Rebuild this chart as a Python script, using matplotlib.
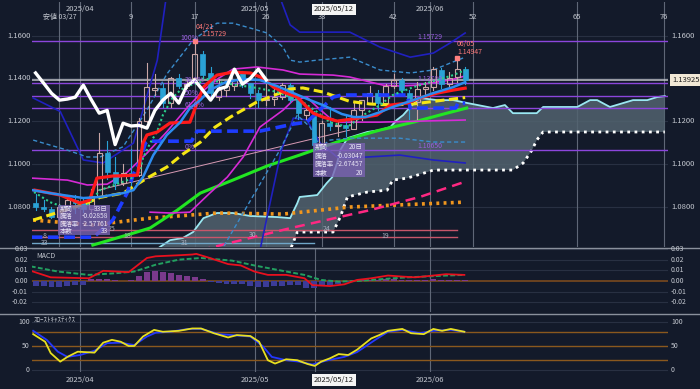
import matplotlib
matplotlib.use('Agg')
import matplotlib.pyplot as plt
from matplotlib.patches import Rectangle, Polygon
from matplotlib.lines import Line2D
import numpy as np

plt.rcParams['font.family'] = ['Liberation Sans Narrow', 'Noto Sans CJK JP', 'DejaVu Sans']

# ---------------- data ----------------
bar_idx = np.arange(-3, 52)          # 0 = 03/27
opens = [1.0818, 1.0800, 1.0790, 1.0752, 1.0800, 1.0830, 1.0815, 1.0790, 1.0850, 1.1050,
         1.0960, 1.0910, 1.0957, 1.0950, 1.1200, 1.1345, 1.1355, 1.1285, 1.1400, 1.1365,
         1.1400, 1.1515, 1.1425, 1.1312, 1.1345, 1.1365, 1.1425, 1.1378, 1.1330, 1.1298,
         1.1303, 1.1312, 1.1368, 1.1300, 1.1230, 1.1225, 1.1090, 1.1190, 1.1177, 1.1180,
         1.1165, 1.1250, 1.1285, 1.1330, 1.1284, 1.1364, 1.1390, 1.1330, 1.1290, 1.1350,
         1.1360, 1.1440, 1.1375, 1.1405, 1.1445]
highs = [1.0858, 1.0830, 1.0800, 1.0812, 1.0856, 1.0855, 1.0835, 1.0880, 1.1145, 1.1108,
         1.1030, 1.1000, 1.1070, 1.1215, 1.1473, 1.1420, 1.1380, 1.1405, 1.1420, 1.1390,
         1.15729, 1.1530, 1.1455, 1.1395, 1.1390, 1.1430, 1.1435, 1.1380, 1.1345, 1.1380,
         1.1350, 1.1380, 1.1380, 1.1310, 1.1265, 1.1245, 1.1200, 1.1265, 1.1205, 1.1230,
         1.1285, 1.1300, 1.1365, 1.1345, 1.1375, 1.1420, 1.1400, 1.1345, 1.1385, 1.1385,
         1.1455, 1.1450, 1.1430, 1.14947, 1.1455]
lows = [1.0785, 1.0778, 1.0745, 1.0735, 1.0790, 1.0768, 1.0775, 1.0776, 1.0840, 1.0930,
        1.0880, 1.0900, 1.0880, 1.0945, 1.1195, 1.1320, 1.1265, 1.1265, 1.1355, 1.1355,
        1.1390, 1.1400, 1.1300, 1.1300, 1.1315, 1.1345, 1.1360, 1.1310, 1.1265, 1.1275,
        1.1275, 1.1305, 1.1290, 1.1210, 1.1210, 1.1065, 1.1085, 1.1160, 1.1130, 1.1130,
        1.1165, 1.1205, 1.1280, 1.1250, 1.1275, 1.1355, 1.1320, 1.1210, 1.1210, 1.1315,
        1.1345, 1.1355, 1.1365, 1.1385, 1.1375]
closes = [1.0800, 1.0790, 1.0752, 1.0800, 1.0830, 1.0815, 1.0790, 1.0850, 1.1050, 1.0960,
          1.0910, 1.0957, 1.0950, 1.1200, 1.1360, 1.1355, 1.1285, 1.1400, 1.1365, 1.1372,
          1.1515, 1.1415, 1.1330, 1.1345, 1.1365, 1.1425, 1.1378, 1.1330, 1.1298, 1.1303,
          1.1312, 1.1368, 1.1300, 1.1237, 1.1250, 1.1090, 1.1190, 1.1177, 1.1180, 1.1167,
          1.1250, 1.1298, 1.1330, 1.1284, 1.1364, 1.1392, 1.1345, 1.1298, 1.1350, 1.1360,
          1.1443, 1.1373, 1.1400, 1.1443, 1.13925]
chikou_shift = 25

# indicator lines (bar index, price)
tenkan_x = [-3.1, 0.1, 2.6, 3.8, 4.7, 6.7, 9.8, 10.1, 10.5, 11.0, 12.3, 13.9, 16.4, 17.3, 18.1,
            19.8, 21.8, 24.0, 25.6, 26.9, 28.1, 29.9, 31.1, 31.9, 33.1, 34.9, 36.9, 39.9, 41.6,
            43.7, 45.3, 47.5, 49.5, 51.0]
tenkan_y = [1.0877, 1.0854, 1.0816, 1.0830, 1.0933, 1.0943, 1.0947, 1.1008, 1.1097, 1.1135,
            1.1149, 1.1191, 1.1195, 1.1284, 1.1359, 1.1415, 1.1429, 1.1425, 1.1401, 1.1359,
            1.1336, 1.1312, 1.1266, 1.1237, 1.1219, 1.1200, 1.1210, 1.1228, 1.1275, 1.1284,
            1.1308, 1.1331, 1.1345, 1.1354]
kijun_x = [-3.5, 4.3, 6.7, 8.5, 9.3, 10.1, 10.8, 11.1, 16.6, 17.3, 25.2, 29.4, 31.1, 34.4, 35.5,
           43.7, 44.1, 49.8, 50.1, 51.0]
kijun_y = [1.0657, 1.0657, 1.0737, 1.0863, 1.0952, 1.1008, 1.1097, 1.1106, 1.1106, 1.1153,
           1.1153, 1.1186, 1.1195, 1.1312, 1.1322, 1.1322, 1.1261, 1.1261, 1.1284, 1.1284]
ma_blue_x = [-3.4, -1.2, 3.0, 5.1, 8.0, 9.3, 10.5, 11.8, 13.5, 15.2, 16.4, 17.7, 18.9, 20.9, 23.1,
             25.2, 27.4, 29.4, 31.5, 33.1, 35.5, 37.0, 38.5, 40.3, 41.9, 44.5, 47.0, 49.5, 51.0]
ma_blue_y = [1.0877, 1.0863, 1.0840, 1.0845, 1.0863, 1.0877, 1.0938, 1.1041, 1.1135, 1.1195,
             1.1261, 1.1298, 1.1345, 1.1382, 1.1397, 1.1392, 1.1363, 1.1331, 1.1298, 1.1275,
             1.1233, 1.1219, 1.1219, 1.1242, 1.1266, 1.1298, 1.1331, 1.1359, 1.1382]
ma_dot_x = [-3.2, -1.2, 0.5, 2.0, 3.5, 5.1, 7.2, 8.9, 10.1, 10.5, 11.4, 12.3, 13.0, 14.2, 15.2,
            16.4, 17.6, 18.1, 20.6, 24.8, 27.4, 29.0, 30.6, 32.4, 34.0, 36.2, 38.2, 40.3, 41.9,
            44.5, 46.6, 49.5, 51.0]
ma_dot_y = [1.0868, 1.0821, 1.0798, 1.0790, 1.0805, 1.0877, 1.0905, 1.0929, 1.0962, 1.1027,
            1.1097, 1.1153, 1.1228, 1.1308, 1.1345, 1.1368, 1.1378, 1.1401, 1.1378, 1.1355,
            1.1336, 1.1312, 1.1289, 1.1242, 1.1195, 1.1172, 1.1228, 1.1275, 1.1322, 1.1359,
            1.1382, 1.1415, 1.1439]
bb_mid_x = [-3.3, 0.0, 3.0, 5.1, 8.0, 11.0, 13.5, 15.5, 17.7, 19.5, 21.5, 24.8, 27.7, 29.0,
            30.6, 33.1, 36.5, 39.0, 41.6, 44.5, 48.7, 51.0]
bb_mid_y = [1.0737, 1.0775, 1.0810, 1.0843, 1.0863, 1.0933, 1.0985, 1.1045, 1.1101, 1.1170,
            1.1219, 1.1289, 1.1331, 1.1350, 1.1355, 1.1336, 1.1292, 1.1280, 1.1275, 1.1280,
            1.1300, 1.1310]
bb_up1_x = [-3.4, 1.0, 3.5, 6.0, 8.5, 11.0, 13.5, 16.0, 18.0, 20.0, 21.8, 24.8, 28.1, 30.2,
            34.4, 36.5, 40.7, 42.8, 44.9, 49.1, 51.0]
bb_up1_y = [1.0933, 1.0924, 1.0901, 1.0905, 1.0960, 1.1050, 1.1150, 1.1260, 1.1340, 1.1400,
            1.1443, 1.1453, 1.1439, 1.1420, 1.1415, 1.1406, 1.1368, 1.1364, 1.1368, 1.1392,
            1.1411]
bb_dn1_x = [11.4, 13.9, 16.4, 18.9, 21.1, 23.1, 25.2, 28.1, 29.4, 31.1, 32.4, 34.0, 35.3, 40.3, 51.0]
bb_dn1_y = [1.0774, 1.0770, 1.0774, 1.0863, 1.0938, 1.1032, 1.1172, 1.1251, 1.1298, 1.1312,
            1.1266, 1.1214, 1.1195, 1.1195, 1.1205]
bb_up2_x = [-3.3, 1.0, 3.5, 5.1, 8.0, 11.0, 13.5, 16.8, 19.8, 21.8, 24.0, 26.1, 28.1, 29.0, 30.2,
            32.4, 36.5, 40.3, 44.1, 47.0, 49.1, 51.0]
bb_up2_y = [1.1111, 1.1064, 1.1032, 1.1032, 1.1080, 1.1251, 1.1420, 1.1579, 1.1658, 1.1658,
            1.1635, 1.1612, 1.1546, 1.1485, 1.1476, 1.1485, 1.1499, 1.1439, 1.1425, 1.1439,
            1.1471, 1.1499]
bb_dn2_x = [19.8, 27.7, 29.9, 31.5, 32.8, 34.0, 36.5, 42.8, 47.0, 51.0]
bb_dn2_y = [1.0560, 1.1064, 1.1228, 1.1172, 1.1078, 1.1111, 1.1120, 1.1120, 1.1102, 1.1102]
bb_up3_x = [-3.3, 0.1, 3.0, 5.5, 9.3, 12.3, 13.5, 20.0, 27.5, 29.0, 30.2, 36.5, 40.3, 44.1,
            47.0, 49.1, 51.0]
bb_up3_y = [1.1308, 1.1245, 1.1018, 1.1004, 1.1097, 1.1485, 1.1800, 1.2000, 1.1800, 1.1650,
            1.1616, 1.1616, 1.1546, 1.1499, 1.1518, 1.1565, 1.1612]
bb_dn3_x = [25.0, 27.9, 29.4, 31.1, 32.8, 34.9, 36.5, 42.8, 47.0, 51.0]
bb_dn3_y = [1.0560, 1.1064, 1.1214, 1.1205, 1.1097, 1.1032, 1.1027, 1.1041, 1.1018, 1.1004]
ma75_x = [4.2, 9.3, 11.4, 14.8, 17.7, 21.8, 26.1, 30.2, 34.9, 40.3, 44.5, 48.7, 51.2]
ma75_y = [1.0620, 1.0676, 1.0700, 1.0783, 1.0863, 1.0924, 1.0990, 1.1041, 1.1102, 1.1158,
          1.1195, 1.1237, 1.1261]
ma_pink_x = [17.7, 29.0, 39.0, 45.3, 51.2]
ma_pink_y = [1.0596, 1.0699, 1.0783, 1.0845, 1.0919]
ma200_x = [-3.3, 4.2, 11.4, 19.8, 28.1, 36.5, 51.0]
ma200_y = [1.0737, 1.0714, 1.0746, 1.0770, 1.0765, 1.0798, 1.0821]
senkou_a_x = [12.0, 13.9, 15.5, 16.8, 18.1, 19.8, 21.8, 24.0, 27.4, 29.0, 29.9, 30.2, 32.4, 33.6,
              34.3, 34.9, 35.3, 36.2, 38.7, 40.3, 41.6, 42.4, 43.2, 44.1, 45.3, 47.5, 49.5, 51.2,
              54.5, 56.0, 57.0, 60.0, 60.8, 65.1, 66.7, 67.6, 69.2, 72.1, 73.9, 75.1, 76.1]
senkou_a_y = [1.0595, 1.0643, 1.0653, 1.0681, 1.0746, 1.0770, 1.0770, 1.0756, 1.0751, 1.0746,
              1.0816, 1.0845, 1.0854, 1.0910, 1.0938, 1.1004, 1.1064, 1.1120, 1.1149, 1.1158,
              1.1172, 1.1205, 1.1228, 1.1266, 1.1308, 1.1298, 1.1298, 1.1285, 1.1261, 1.1275,
              1.1237, 1.1237, 1.1266, 1.1266, 1.1298, 1.1298, 1.1266, 1.1298, 1.1298, 1.1312,
              1.1317]
senkou_b_x = [28.3, 29.0, 29.9, 34.4, 35.3, 36.2, 38.7, 41.2, 41.9, 43.7, 46.2, 47.0, 57.0, 58.3,
              59.4, 60.0, 60.8, 76.1]
senkou_b_y = [1.0550, 1.0596, 1.0681, 1.0681, 1.0751, 1.0845, 1.0868, 1.0877, 1.0924, 1.0933,
              1.0961, 1.0971, 1.0971, 1.1004, 1.1064, 1.1111, 1.1149, 1.1149]

fib_levels = [1.15729, 1.13789, 1.13190, 1.12590, 1.10650]
fib_names = ['100%', '38.2%', '50%', '61.8%', '0%']
last_price = 1.13925
count_days = [9, 17, 26, 33, 42, 52, 65, 76]
month_pos = [2.6, 24.6, 46.6]
month_names = ['2025/04', '2025/05', '2025/06']
cursor_pos = 32.1
rose_levels = [1.0690, 1.0656]
steel_level = 1.0628

macd_x = [-3.6, -1.1, 3.7, 5.5, 8.7, 11.0, 12.1, 15.0, 16.7, 17.2, 18.9, 21.2, 22.8, 24.5, 26.2,
          28.5, 30.8, 31.8, 34.0, 35.8, 37.4, 39.2, 41.3, 43.1, 44.7, 46.5, 48.6, 50.9]
macd_y = [0.0097, 0.0035, 0.0026, 0.0097, 0.0084, 0.0219, 0.0235, 0.0245, 0.0252, 0.0258,
          0.0219, 0.0161, 0.0148, 0.0090, 0.0058, 0.0058, 0.0026, -0.0039, -0.0048, -0.0032,
          0.0010, 0.0026, 0.0052, 0.0042, 0.0035, 0.0048, 0.0065, 0.0058]
signal_x = [-3.6, -0.2, 3.7, 7.1, 9.4, 12.1, 15.0, 17.8, 21.7, 24.5, 27.4, 30.8, 32.9, 35.1,
            37.4, 40.2, 43.1, 45.8, 48.6, 50.9]
signal_y = [0.0139, 0.0090, 0.0058, 0.0074, 0.0090, 0.0155, 0.0203, 0.0219, 0.0194, 0.0148,
            0.0106, 0.0058, 0.0010, -0.0006, 0.0000, 0.0016, 0.0032, 0.0042, 0.0052, 0.0058]
macd_hist = [-0.0045, -0.0050, -0.0055, -0.0055, -0.0048, -0.0040, -0.0035, 0.0015, 0.0020,
             0.0018, 0.0005, 0.0002, 0.0010, 0.0045, 0.0085, 0.0095, 0.0085, 0.0078, 0.0060,
             0.0045, 0.0042, 0.0020, -0.0008, -0.0015, -0.0025, -0.0030, -0.0032, -0.0048,
             -0.0055, -0.0058, -0.0050, -0.0048, -0.0040, -0.0038, -0.0065, -0.0070, -0.0050,
             -0.0042, -0.0030, -0.0012, 0.0005, 0.0010, 0.0012, 0.0012, 0.0018, 0.0020, 0.0012,
             0.0005, 0.0008, 0.0010, 0.0015, 0.0012, 0.0010, 0.0012, 0.0008]

stoch_k_x = [-3.3, -1.8, -1.1, 0.1, 1.0, 2.3, 4.4, 5.5, 6.6, 7.7, 8.7, 9.4, 10.5, 11.9, 13.0, 15.0,
             16.7, 17.8, 19.4, 21.2, 22.3, 24.0, 25.1, 26.2, 27.1, 28.5, 29.9, 31.2, 32.1, 32.9,
             34.0, 35.1, 36.3, 37.4, 39.2, 40.2, 41.3, 43.1, 44.2, 45.8, 47.0, 48.1, 49.2, 50.9]
stoch_k = [75, 59, 35, 17, 27, 38, 36, 57, 63, 59, 50, 50, 70, 84, 80, 82, 87, 87, 77, 68, 73,
           71, 59, 20, 13, 22, 20, 12, 8, 17, 24, 33, 31, 42, 66, 73, 82, 86, 77, 75, 86, 82, 86, 80]
stoch_d_x = [-3.3, -1.6, -0.2, 1.0, 2.6, 4.4, 6.0, 7.7, 9.4, 11.0, 12.1, 13.9, 16.2, 17.8, 20.1,
             21.7, 24.0, 25.6, 26.7, 28.5, 30.1, 31.8, 33.5, 35.8, 37.4, 39.7, 41.3, 43.1, 45.3,
             47.0, 49.2, 50.9]
stoch_d = [82, 63, 38, 27, 31, 40, 56, 57, 52, 70, 78, 80, 86, 86, 75, 73, 70, 49, 27, 20, 17,
           11, 19, 27, 37, 63, 80, 84, 77, 82, 84, 80]

# ---------------- figure ----------------
W, H = 700, 389
BG = '#131a2a'
GRID = '#283042'
VLINE = '#5f6777'
TXT = '#c4c8d0'
fig = plt.figure(figsize=(7, 3.89), dpi=100)
fig.patch.set_facecolor(BG)


def axes_px(x0, y0, x1, y1):
    a = fig.add_axes([x0 / W, 1 - y1 / H, (x1 - x0) / W, (y1 - y0) / H])
    a.set_facecolor(BG)
    for s in a.spines.values():
        s.set_visible(False)
    a.set_xticks([])
    a.set_yticks([])
    return a


def ftext(x, y, s, **kw):
    kw.setdefault('color', TXT)
    kw.setdefault('fontsize', 5.5)
    kw.setdefault('va', 'center')
    fig.text(x / W, 1 - y / H, s, **kw)


X0, X1 = -3.45, 76.5
ax = axes_px(32, 2, 668, 247)
ax.set_xlim(X0, X1)
ax.set_ylim(1.0611, 1.1757)

# grid
for p in [1.08, 1.10, 1.12, 1.14, 1.16]:
    ax.axhline(p, color=GRID, lw=0.8, zorder=0)
for d in [0] + count_days:
    ax.axvline(d, color=VLINE, lw=0.8, zorder=0)
for m in month_pos:
    ax.axvline(m, color=VLINE, lw=0.8, zorder=0)

# cloud
poly_x = senkou_a_x + senkou_b_x[::-1] + [senkou_a_x[0]]
poly_y = senkou_a_y + senkou_b_y[::-1] + [senkou_b_y[0]]
ax.add_patch(Polygon(np.column_stack([poly_x, poly_y]), closed=True,
                     facecolor='#52636f', alpha=0.85, edgecolor='none', zorder=1))
ax.plot(senkou_a_x, senkou_a_y, color='#9ae8f2', lw=1.3, zorder=2)
ax.plot(senkou_b_x, senkou_b_y, color='white', lw=2.0, ls=(0, (1, 1.6)), zorder=2)

# horizontal levels
for p in fib_levels:
    ax.axhline(p, color='#8c46dc', lw=1.0, zorder=2)
ax.axhline(last_price, color='#c0c2c8', lw=1.1, zorder=2)
for p in rose_levels:
    ax.plot([X0, 50.0], [p, p], color='#c8566a', lw=1.0, zorder=2)
ax.plot([X0, 32.0], [steel_level, steel_level], color='#6fa6c8', lw=1.0, zorder=2)

# thin trend line
ax.plot([4.9, 36.5], [1.0877, 1.1158], color='#d89ab4', lw=0.7, zorder=3)

# long moving averages
ax.plot(ma200_x, ma200_y, color='#f0961e', lw=2.6, ls=(0, (0.8, 1.2)), zorder=3)
ax.plot(ma_pink_x, ma_pink_y, color='#ff2882', lw=1.8, ls=(0, (4, 2.5)), zorder=3)
ax.plot(ma75_x, ma75_y, color='#22e622', lw=2.2, zorder=3)

# bollinger bands
ax.plot(bb_up3_x, bb_up3_y, color='#2020c0', lw=1.2, zorder=3)
ax.plot(bb_dn3_x, bb_dn3_y, color='#2020c0', lw=1.2, zorder=3)
ax.plot(bb_up2_x, bb_up2_y, color='#3a8ccc', lw=1.0, ls=(0, (3, 2)), zorder=3)
ax.plot(bb_dn2_x, bb_dn2_y, color='#3a8ccc', lw=1.0, ls=(0, (3, 2)), zorder=3)
ax.plot(bb_up1_x, bb_up1_y, color='#d62ad6', lw=1.2, zorder=3)
ax.plot(bb_dn1_x, bb_dn1_y, color='#d62ad6', lw=1.2, zorder=3)

# candles
UP = '#c9a6a6'
DN = '#2aa2d6'
bw = 0.62
for i, o, hi, lo, c in zip(bar_idx, opens, highs, lows, closes):
    top, bot = max(o, c), min(o, c)
    col = UP if c >= o else DN
    ax.plot([i, i], [top, hi], color=col, lw=0.8, zorder=4)
    ax.plot([i, i], [lo, bot], color=col, lw=0.8, zorder=4)
    if c >= o:
        ax.add_patch(Rectangle((i - bw / 2, bot), bw, max(top - bot, 0.0002),
                               facecolor='none', edgecolor=UP, lw=0.8, zorder=4))
    else:
        ax.add_patch(Rectangle((i - bw / 2, bot), bw, max(top - bot, 0.0002),
                               facecolor=DN, edgecolor=DN, lw=0.5, zorder=4))

# faster lines
ax.plot(bb_mid_x, bb_mid_y, color='#f5e614', lw=2.2, ls=(0, (3, 1.5)), zorder=5)
ax.plot(kijun_x, kijun_y, color='#1e3cff', lw=2.6, ls=(0, (3, 1.5)), zorder=5)
ax.plot(ma_dot_x, ma_dot_y, color='#2ad08c', lw=1.5, ls=(0, (1, 1.3)), zorder=5)
ax.plot(tenkan_x, tenkan_y, color='#ff1a1a', lw=2.3, zorder=5)
ax.plot(ma_blue_x, ma_blue_y, color='#2d8cf0', lw=1.8, zorder=5)
ax.plot(bar_idx[chikou_shift:] - chikou_shift, closes[chikou_shift:], color='white', lw=2.4, zorder=6)

# markers at highs
ax.plot([17], [highs[20]], marker='s', ms=3, color='#ff8080', zorder=7)
ax.plot([50], [highs[53]], marker='s', ms=3, color='#ff8080', zorder=7)

# ---------------- MACD ----------------
am = axes_px(32, 248, 668, 312)
am.set_xlim(X0, X1)
am.set_ylim(-0.0295, 0.0314)
for v in [0.03, 0.02, 0.01, -0.01, -0.02]:
    am.axhline(v, color=GRID, lw=0.8, zorder=0)
for m in month_pos + [cursor_pos]:
    am.axvline(m, color=VLINE, lw=0.8, zorder=0)
am.axhline(0, color='#7a4a1e', lw=1.2, zorder=1)
hcol = ['#7a3a8c' if v > 0 else '#3c3c98' for v in macd_hist]
am.bar(bar_idx, macd_hist, width=0.75, color=hcol, zorder=2)
am.plot(signal_x, signal_y, color='#22a060', lw=1.4, ls=(0, (2.5, 1.2)), zorder=3)
am.plot(macd_x, macd_y, color='#e8101e', lw=1.3, zorder=4)

# ---------------- Stochastics ----------------
ast = axes_px(32, 315, 668, 372)
ast.set_xlim(X0, X1)
ast.set_ylim(-4.85, 115.4)
for v in [0, 100]:
    ast.axhline(v, color=GRID, lw=0.8, zorder=0)
for v in [20, 50, 80]:
    ast.axhline(v, color='#8a581e', lw=1.0, zorder=1)
for m in month_pos + [cursor_pos]:
    ast.axvline(m, color=VLINE, lw=0.8, zorder=0)
ast.plot(stoch_d_x, stoch_d, color='#2438ff', lw=1.3, zorder=3)
ast.plot(stoch_k_x, stoch_k, color='#e8e020', lw=1.3, zorder=4)

# panel separators
for yy in [247.5, 313.5]:
    fig.add_artist(Line2D([0, 1], [1 - yy / H, 1 - yy / H], color='#8a909c', lw=1.0))

# ---------------- texts ----------------
def xpx(i):
    return 32 + (i - X0) / (X1 - X0) * 636


def ypx(p):
    return 2 + (1.1757 - p) / (1.1757 - 1.0611) * 245


for p, s in [(1.16, '1.1600'), (1.14, '1.1400'), (1.12, '1.1200'), (1.10, '1.1000'), (1.08, '1.0800')]:
    ftext(31, ypx(p), s, ha='right')
    if p != 1.14:
        ftext(671, ypx(p), s, ha='left')
ftext(672, ypx(last_price), '%.5f' % last_price, ha='left', color='#202020',
      bbox=dict(boxstyle='square,pad=0.25', facecolor='#f1e8d6', edgecolor='none'))

for d in count_days:
    ftext(xpx(d), 17, str(d), ha='center')
ftext(xpx(0), 17, '安値 03/27', ha='center', fontsize=5)
for m, s in zip(month_pos, month_names):
    ftext(xpx(m), 9.5, s, ha='center')
ftext(334, 9.5, '2025/05/12', ha='center', color='#202020',
      bbox=dict(boxstyle='square,pad=0.2', facecolor='#f4f4f4', edgecolor='none'))

# fibonacci labels
fib_lx = [180, 185, 185, 185, 185]
for p, s, lx in zip(fib_levels, fib_names, fib_lx):
    ftext(lx, ypx(p) - 3, s, ha='left', color='#a064e6', fontsize=5)
for p in [fib_levels[0], fib_levels[1], fib_levels[4]]:
    ftext(417, ypx(p) - 4, '%.5f' % p, ha='left', color='#9a5ee0', fontsize=5)

ftext(196, 27, '04/21', ha='left', color='#ff7a7a', fontsize=5)
ftext(201, 34, '%.5f' % highs[20], ha='left', color='#ff7a7a', fontsize=5)
ftext(457, 44, '06/05', ha='left', color='#ff7a7a', fontsize=5)
ftext(457, 51.5, '%.5f' % highs[53], ha='left', color='#ff7a7a', fontsize=5)

# numbers on lower lines
for x, y, s in [(45, 236, '8'), (45, 243, '33'), (112, 229, '25'), (127, 236, '18'),
                (185, 243, '31'), (253, 235, '30'), (327, 229, '24'), (385, 236, '19')]:
    ftext(x, y, s, ha='center', color='#a8b0c0', fontsize=5)

# measurement boxes
def info_box(x0, y0, x1, y1, rows):
    fig.add_artist(Rectangle((x0 / W, 1 - y1 / H), (x1 - x0) / W, (y1 - y0) / H,
                             transform=fig.transFigure, facecolor='#7b63b2', alpha=0.8,
                             edgecolor='none', zorder=10))
    step = (y1 - y0) / len(rows)
    for k, (a, b) in enumerate(rows):
        yy = y0 + step * (k + 0.5)
        ftext(x0 + 2, yy, a, ha='left', color='#e6e2f4', fontsize=4.6, zorder=11)
        ftext(x1 - 2, yy, b, ha='right', color='#e6e2f4', fontsize=4.8, zorder=11)


info_box(58, 205, 110, 235, [('期間', '33日'), ('騰落', '-0.02858'), ('騰落率', '-2.57761'), ('本数', '33')])
info_box(313, 143, 365, 177, [('期間', '20日'), ('騰落', '-0.03047'), ('騰落率', '-2.67457'), ('本数', '20')])

# MACD labels
def ympx(v):
    return 248 + (0.0314 - v) / (0.0314 + 0.0295) * 64


for v, s in [(0.03, '0.03'), (0.02, '0.02'), (0.01, '0.01'), (0.0, '0.00'), (-0.01, '-0.01'), (-0.02, '-0.02')]:
    ftext(28, ympx(v), s, ha='right', fontsize=5)
    ftext(671, ympx(v), s, ha='left', fontsize=5)
ftext(36, 256, 'MACD', ha='left', fontsize=5)

def yspx(v):
    return 315 + (115.4 - v) / (115.4 + 4.85) * 57


for v in [100, 50, 0]:
    ftext(30, yspx(v), str(v), ha='right', fontsize=5)
    ftext(671, yspx(v), str(v), ha='left', fontsize=5)
ftext(34, 320.5, 'ｽﾛｰｽﾄｷｬｽﾃｨｸｽ', ha='left', fontsize=5)

for m, s in zip(month_pos, month_names):
    ftext(xpx(m), 380, s, ha='center')
ftext(334, 380, '2025/05/12', ha='center', color='#202020',
      bbox=dict(boxstyle='square,pad=0.2', facecolor='#f4f4f4', edgecolor='none'))

fig.savefig('out.png', dpi=100, facecolor=BG)
